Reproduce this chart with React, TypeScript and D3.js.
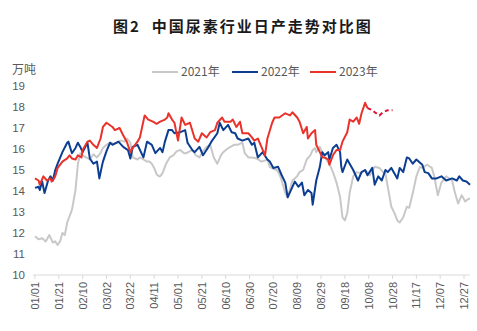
import React from 'react';
import * as d3 from 'd3';

const titleText = '图2  中国尿素行业日产走势对比图';
const unitLabel = '万吨';
const seriesNames = ['2021年', '2022年', '2023年'];
const yTicks = [10, 11, 12, 13, 14, 15, 16, 17, 18, 19];
const tickDays = [0, 20, 40, 60, 80, 100, 120, 140, 160, 180, 200, 220, 240, 260, 280, 300, 320, 340, 360];
const tickLabels = ['01/01', '01/21', '02/10', '03/02', '03/22', '04/11', '05/01', '05/21', '06/10', '06/30', '07/20', '08/09', '08/29', '09/18', '10/08', '10/28', '11/17', '12/07', '12/27'];

const days2021 = [0, 3, 6, 9, 12, 15, 17, 19, 21, 23, 25, 27, 31, 34, 36, 38, 40, 43, 46, 49, 52, 55, 57, 60, 63, 66, 69, 72, 75, 77, 80, 82, 86, 88, 91, 94, 96, 98, 100, 102, 104, 105, 107, 110, 113, 116, 119, 122, 125, 127, 130, 132, 135, 138, 141, 144, 147, 150, 153, 156, 158, 161, 164, 167, 170, 174, 176, 179, 182, 186, 190, 193, 195, 197, 200, 203, 205, 207, 210, 212, 214, 216, 218, 220, 222, 225, 228, 231, 233, 235, 236, 239, 243, 247, 250, 253, 256, 258, 260, 262, 264, 267, 270, 273, 277, 281, 285, 289, 292, 294, 296, 299, 302, 304, 306, 309, 312, 314, 317, 320, 323, 325, 329, 333, 335, 338, 341, 345, 350, 352, 355, 358, 361, 363, 365];
const vals2021 = [11.85, 11.7, 11.75, 11.6, 11.9, 11.55, 11.6, 11.43, 11.6, 12.0, 11.9, 12.5, 13.1, 14.05, 15.3, 15.8, 15.7, 15.6, 15.5, 15.75, 15.6, 15.8, 16.05, 16.2, 16.3, 16.25, 16.3, 16.4, 16.35, 16.5, 16.3, 15.6, 15.5, 15.6, 15.5, 15.4, 15.4, 15.3, 15.1, 14.8, 14.7, 14.7, 14.85, 15.3, 15.6, 15.7, 15.9, 15.95, 15.8, 15.8, 15.9, 15.95, 15.7, 15.6, 15.9, 16.1, 16.2, 15.6, 15.3, 15.7, 15.85, 16.0, 16.1, 16.2, 16.2, 16.3, 15.8, 15.6, 15.6, 15.55, 15.4, 15.45, 15.5, 15.15, 15.05, 15.0, 14.8, 14.5, 13.9, 13.7, 14.1, 14.5, 14.6, 14.7, 14.9, 15.0, 15.5, 15.7, 15.95, 16.05, 15.85, 16.1, 15.6, 15.3, 14.9, 14.4, 13.7, 12.75, 12.6, 12.95, 13.9, 14.7, 14.9, 14.85, 15.0, 14.75, 15.15, 15.1, 14.9, 14.85, 14.2, 13.25, 12.9, 12.6, 12.5, 12.75, 13.25, 13.2, 13.9, 14.7, 15.15, 15.1, 15.25, 15.1, 14.7, 13.8, 14.4, 14.7, 14.5, 14.0, 13.4, 13.8, 13.5, 13.6, 13.65];

const days2022 = [0, 3, 4, 6, 8, 11, 13, 15, 17, 19, 23, 27, 28, 31, 34, 36, 38, 40, 44, 46, 49, 52, 54, 56, 57, 60, 63, 65, 70, 74, 78, 80, 82, 86, 91, 94, 98, 101, 105, 107, 109, 112, 115, 117, 122, 126, 128, 132, 134, 138, 141, 145, 148, 153, 155, 158, 162, 165, 168, 170, 174, 179, 182, 184, 187, 191, 195, 197, 200, 204, 207, 210, 212, 216, 218, 221, 224, 226, 229, 232, 233, 236, 239, 241, 243, 246, 247, 250, 253, 256, 257, 258, 262, 264, 267, 271, 274, 277, 279, 283, 285, 288, 291, 294, 296, 299, 304, 306, 309, 312, 314, 317, 320, 325, 327, 330, 333, 337, 341, 345, 350, 354, 356, 359, 362, 365];
const vals2022 = [14.15, 14.2, 14.05, 14.45, 13.9, 14.5, 14.7, 14.5, 15.0, 15.3, 15.85, 16.3, 16.35, 15.8, 16.05, 16.3, 16.1, 15.85, 16.3, 15.55, 15.3, 15.4, 14.6, 15.15, 15.4, 15.9, 16.3, 16.2, 16.35, 16.1, 15.95, 15.55, 16.1, 16.2, 15.6, 16.35, 16.2, 15.8, 16.05, 15.85, 16.35, 16.9, 16.9, 16.75, 16.8, 16.9, 16.3, 15.95, 15.85, 16.1, 15.7, 16.05, 16.35, 16.75, 17.25, 16.9, 17.15, 16.8, 16.75, 16.5, 16.4, 16.5, 16.2, 16.3, 15.6, 15.85, 15.5, 15.4, 15.1, 15.15, 14.75, 14.4, 13.7, 14.2, 14.45, 14.2, 14.4, 13.8, 14.05, 13.9, 13.35, 14.5, 15.15, 15.85, 15.7, 15.85, 15.5, 16.05, 16.2, 15.85, 15.15, 14.9, 15.5, 15.3, 15.0, 14.5, 14.9, 15.0, 14.75, 15.1, 14.3, 14.7, 14.5, 15.0, 14.9, 15.1, 14.6, 15.1, 14.9, 15.6, 15.55, 15.3, 15.5, 15.25, 14.9, 14.85, 14.6, 14.6, 14.7, 14.5, 14.6, 14.5, 14.7, 14.5, 14.45, 14.3];

const days2023 = [0, 3, 4, 7, 10, 13, 14, 15, 17, 19, 23, 27, 29, 31, 34, 36, 39, 40, 44, 46, 49, 52, 55, 57, 60, 65, 67, 71, 74, 77, 80, 82, 86, 88, 92, 95, 99, 102, 105, 109, 111, 112, 115, 117, 120, 123, 126, 130, 134, 137, 140, 144, 147, 151, 153, 157, 159, 164, 166, 169, 172, 174, 179, 182, 184, 187, 190, 193, 195, 199, 201, 205, 210, 214, 216, 220, 222, 225, 228, 229, 232, 235, 236, 239, 241, 243, 246, 247, 250, 253, 256, 258, 262, 264, 267, 270, 272, 274, 277, 279];
const vals2023 = [14.6, 14.5, 14.3, 14.7, 14.5, 14.6, 14.45, 14.5, 14.7, 15.1, 15.4, 15.55, 15.7, 15.55, 15.5, 15.7, 15.6, 15.95, 16.35, 16.4, 16.2, 16.05, 16.5, 17.05, 17.25, 17.05, 16.9, 17.0, 16.65, 16.35, 15.85, 16.05, 16.35, 16.55, 17.6, 17.4, 17.3, 17.2, 17.3, 17.4, 17.5, 17.7, 17.4, 17.25, 16.4, 17.5, 17.15, 17.25, 16.5, 16.35, 16.75, 16.55, 16.8, 16.9, 17.25, 17.5, 17.3, 17.3, 17.4, 17.05, 17.3, 16.75, 16.75, 16.55, 16.4, 16.5, 16.1, 15.7, 16.5, 17.25, 17.5, 17.5, 17.7, 17.6, 17.75, 17.5, 17.3, 16.75, 17.05, 16.5, 16.75, 16.9, 16.2, 15.85, 15.6, 15.6, 15.5, 15.25, 15.7, 15.95, 15.95, 16.35, 16.8, 17.4, 17.3, 17.5, 17.2, 17.7, 18.2, 17.95];
const days2023f = [279, 283, 285, 289, 292, 296, 300];
const vals2023f = [17.95, 17.85, 17.75, 17.6, 17.75, 17.85, 17.85];

const colors = ['#c8c8c8', '#0b3d91', '#e8322a'];
const textColor = '#595959';
const font = '"Liberation Sans", Arial, sans-serif';
const cjkFont = '"Noto Sans CJK SC", sans-serif';

const zip = (a: number[], b: number[]) => a.map((d, i) => [d, b[i]] as [number, number]);

export default function App() {
  const W = 477, H = 331;
  const x = d3.scaleLinear().domain([0, 365]).range([35, 470]);
  const y = d3.scaleLinear().domain([10, 19]).range([275, 86]);
  const line = d3.line<[number, number]>().x(d => x(d[0])).y(d => y(d[1]));

  const legendX = [152, 232, 310];

  return (
    <svg width={W} height={H} style={{ position: 'fixed', left: 0, top: 0, background: '#fff' }}>
      <rect width={W} height={H} fill="#fff" />
      <text x={113} y={32} fontFamily={cjkFont} fontWeight="bold" fontSize={15} fill="#1a1a1a" letterSpacing={2} style={{ whiteSpace: 'pre' }}>{titleText}</text>
      <text x={12} y={74} fontFamily={cjkFont} fontSize={12} fill={textColor}>{unitLabel}</text>
      {seriesNames.map((n, i) => (
        <g key={n}>
          <line x1={legendX[i]} x2={legendX[i] + 26} y1={72} y2={72} stroke={colors[i]} strokeWidth={2} />
          <text x={legendX[i] + 29} y={76} fontFamily={cjkFont} fontSize={12} fill={textColor}>{n}</text>
        </g>
      ))}
      {yTicks.map(t => (
        <text key={t} x={25} y={y(t) + 4} textAnchor="end" fontFamily={font} fontSize={11.5} fill={textColor}>{t}</text>
      ))}
      <line x1={33} x2={470} y1={y(10)} y2={y(10)} stroke="#d9d9d9" strokeWidth={1} />
      {tickDays.map((d, i) => (
        <g key={d}>
          <line x1={x(d)} x2={x(d)} y1={y(10)} y2={y(10) + 4} stroke="#d9d9d9" />
          <text transform={`translate(${x(d) + 4},${282}) rotate(-90)`} textAnchor="end" fontFamily={font} fontSize={11} fill={textColor}>{tickLabels[i]}</text>
        </g>
      ))}
      <path d={line(zip(days2021, vals2021)) || ''} fill="none" stroke={colors[0]} strokeWidth={2} strokeLinejoin="round" />
      <path d={line(zip(days2022, vals2022)) || ''} fill="none" stroke={colors[1]} strokeWidth={2} strokeLinejoin="round" />
      <path d={line(zip(days2023, vals2023)) || ''} fill="none" stroke={colors[2]} strokeWidth={2} strokeLinejoin="round" />
      <path d={line(zip(days2023f, vals2023f)) || ''} fill="none" stroke="#e0102e" strokeWidth={2} strokeDasharray="4,3" />
    </svg>
  );
}
